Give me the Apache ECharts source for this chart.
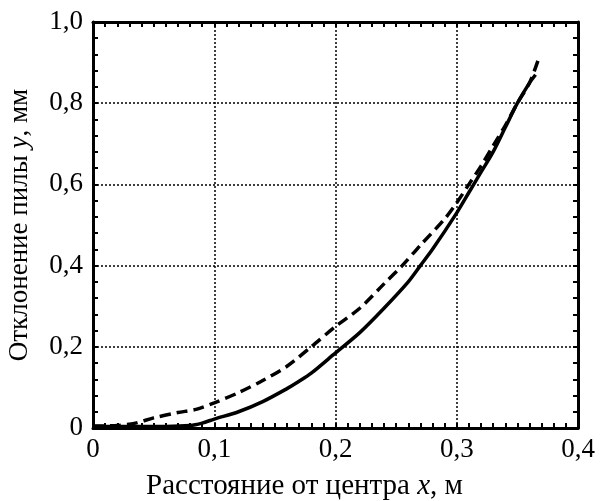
<!DOCTYPE html>
<html><head><meta charset="utf-8">
<script src="https://cdn.jsdelivr.net/npm/echarts@6/dist/echarts.min.js"></script>
<style>html,body{margin:0;padding:0;background:#fff}#c{width:600px;height:501px}</style>
</head><body><div id="c"></div>
<script>
const solidX = [0, 0.02, 0.04, 0.06, 0.08, 0.09, 0.1, 0.12, 0.14, 0.16, 0.17, 0.18, 0.2, 0.22, 0.24, 0.26, 0.27, 0.28, 0.3, 0.31, 0.32, 0.33, 0.34, 0.35, 0.36, 0.365];
const solidY = [0.004, 0.004, 0.004, 0.004, 0.006, 0.012, 0.022, 0.04, 0.065, 0.097, 0.115, 0.135, 0.185, 0.235, 0.295, 0.36, 0.4, 0.44, 0.53, 0.58, 0.63, 0.68, 0.74, 0.8, 0.85, 0.87];
const dashX = [0, 0.02, 0.035, 0.05, 0.07, 0.085, 0.1, 0.12, 0.14, 0.16, 0.18, 0.2, 0.22, 0.24, 0.255, 0.27, 0.29, 0.3, 0.31, 0.32, 0.33, 0.34, 0.35, 0.36, 0.367];
const dashY = [0.005, 0.006, 0.012, 0.025, 0.038, 0.046, 0.062, 0.087, 0.117, 0.152, 0.2, 0.25, 0.295, 0.355, 0.4, 0.45, 0.515, 0.555, 0.6, 0.645, 0.695, 0.745, 0.8, 0.85, 0.905];
const xTicks = [0, 0.1, 0.2, 0.3, 0.4];
const yTicks = [0, 0.2, 0.4, 0.6, 0.8, 1.0];
const xName = 'Расстояние от центра ';
const yName = 'Отклонение пилы ';

const fmt = v => v === 0 ? '0' : (Math.round(v*10)/10).toFixed(1).replace('.', ',');
const F = 'Liberation Serif';
const gridLine = {show:true, lineStyle:{color:'#000', type:[2,2], width:1.5}};
const axisLine = {show:true, onZero:false, lineStyle:{color:'#000', width:3}};
const tick = {show:true, inside:true, length:5, lineStyle:{color:'#000', width:2}};
const richX = {n:{fontFamily:F, fontSize:29, color:'#000'}, i:{fontFamily:F, fontSize:29, fontStyle:'italic', color:'#000'}};
const richY = {n:{fontFamily:F, fontSize:27, color:'#000'}, i:{fontFamily:F, fontSize:27, fontStyle:'italic', color:'#000'}};
const chart = echarts.init(document.getElementById('c'));
chart.setOption({
  animation:false,
  grid:{left:93, right:22, top:22, bottom:73, containLabel:false, outerBoundsMode:'none'},
  xAxis:[{
    type:'value', min:xTicks[0], max:xTicks[xTicks.length-1], interval:0.1,
    axisLine, axisTick:tick,
    minorTick:{show:true, splitNumber:10, length:5, lineStyle:{color:'#000', width:2}},
    splitLine:gridLine,
    axisLabel:{formatter:fmt, color:'#000', fontFamily:F, fontSize:27, margin:8},
    name:'{n|'+xName+'}{i|x}{n|, м}', nameLocation:'middle', nameGap:44,
    nameTextStyle:{rich:richX, padding:[0, 62, 0, 0]}
  },{
    type:'value', position:'top', min:0, max:0.4, interval:0.1,
    axisLine, axisTick:tick,
    minorTick:{show:true, splitNumber:10, length:5, lineStyle:{color:'#000', width:2}},
    splitLine:{show:false}, axisLabel:{show:false}
  }],
  yAxis:[{
    type:'value', min:yTicks[0], max:yTicks[yTicks.length-1], interval:0.2,
    axisLine, axisTick:tick,
    minorTick:{show:true, splitNumber:5, length:5, lineStyle:{color:'#000', width:2}},
    splitLine:gridLine,
    axisLabel:{formatter:fmt, color:'#000', fontFamily:F, fontSize:27, margin:10},
    name:'{n|'+yName+'}{i|y}{n|, мм}', nameLocation:'middle', nameGap:60, nameRotate:90,
    nameTextStyle:{rich:richY}
  },{
    type:'value', position:'right', min:0, max:1, interval:0.2,
    axisLine, axisTick:tick,
    minorTick:{show:true, splitNumber:5, length:5, lineStyle:{color:'#000', width:2}},
    splitLine:{show:false}, axisLabel:{show:false}
  }],
  series:[{
    type:'line', data:solidX.map((x,i)=>[x, solidY[i]]), showSymbol:false, smooth:0.3,
    lineStyle:{color:'#000', width:3.5}, z:3
  },{
    type:'line', data:dashX.map((x,i)=>[x, dashY[i]]), showSymbol:false, smooth:0.3,
    lineStyle:{color:'#000', width:3.5, type:[11,6]}, z:3
  }]
});
</script></body></html>
